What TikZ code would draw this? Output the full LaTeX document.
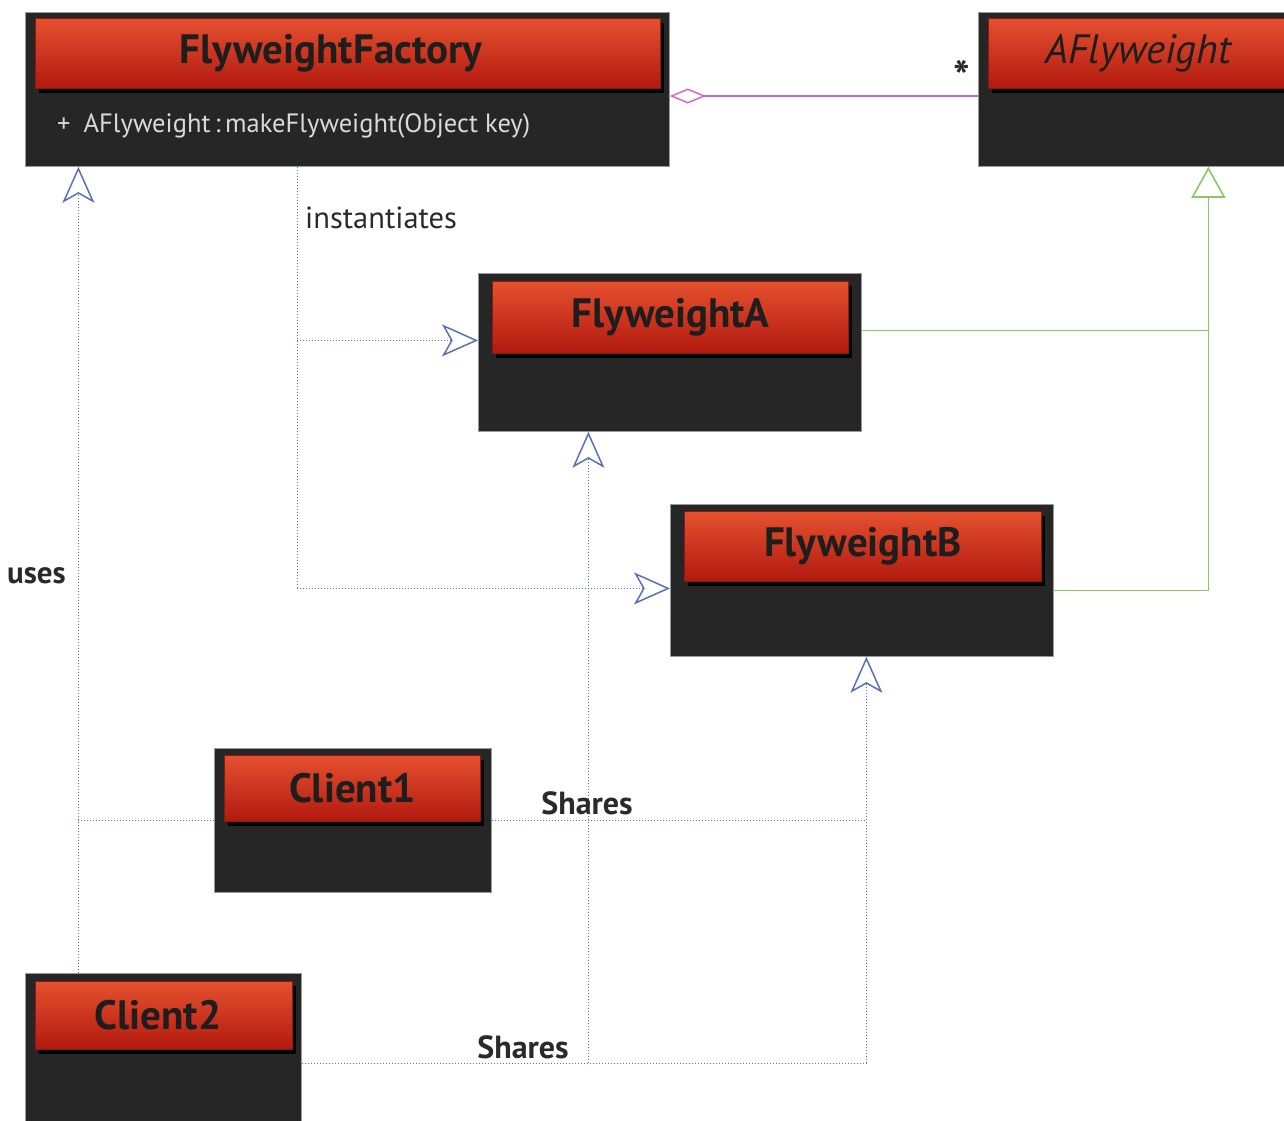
\documentclass[tikz,border=0pt]{standalone}
\usepackage{fontspec}
\setmainfont{PT Sans}
\usetikzlibrary{arrows.meta,shadows,calc}

\definecolor{boxbody}{HTML}{262626}
\definecolor{boxedge}{HTML}{9A9A9A}
\definecolor{headtop}{HTML}{E5512F}
\definecolor{headbot}{HTML}{B2190F}
\definecolor{headedge}{HTML}{8A1A10}
\definecolor{titleink}{HTML}{1E1E1E}
\definecolor{depblue}{HTML}{5870B8}
\definecolor{aggpink}{HTML}{D060D0}
\definecolor{gengreen}{HTML}{8CC860}
\definecolor{labelink}{HTML}{2A2A2A}

\tikzset{
  classbody/.style={draw=boxedge, line width=0.8pt, fill=boxbody,
    anchor=north west, inner sep=0pt},
  classhead/.style={draw=headedge, line width=0.8pt,
    top color=headtop, bottom color=headbot,
    general shadow={shadow xshift=4pt, shadow yshift=-5pt, fill=black},
    anchor=north west, inner sep=0pt, text=titleink,
    font=\fontsize{41}{46}\selectfont\bfseries},
  member/.style={anchor=west, text=white!85!black, inner sep=0pt,
    font=\fontsize{26.5}{30}\selectfont},
  dep/.style={depblue, line width=1pt, dotted},
  openhead/.style={-{Stealth[open, length=36pt, width=32pt, inset=9pt, line width=1.5pt]}},
  tag/.style={text=labelink, inner sep=0pt, font=\fontsize{30.5}{34}\selectfont},
  boldtag/.style={tag, font=\fontsize{32}{36}\selectfont\bfseries},
}

\begin{document}
\begin{tikzpicture}[x=1pt, y=-1pt]
\useasboundingbox (0,0) rectangle (1284,1120);
\clip (0,0) rectangle (1284,1120);

% class bodies
\node[classbody, minimum width=644pt, minimum height=154pt] (factory) at (25,12) {};
\node[classbody, minimum width=320pt, minimum height=154pt] (afly) at (978,12) {};
\node[classbody, minimum width=383pt, minimum height=158pt] (fa) at (478,273) {};
\node[classbody, minimum width=383pt, minimum height=152pt] (fb) at (670,504) {};
\node[classbody, minimum width=277pt, minimum height=144pt] (c1) at (214,748) {};
\node[classbody, minimum width=276pt, minimum height=157pt] (c2) at (25,973) {};

% class headers (a trailing kern nudges a title slightly left of centre)
\node[classhead, minimum width=625pt, minimum height=70pt] (factoryhead) at (35,18) {FlyweightFactory\kern34pt};
\node[classhead, minimum width=300pt, minimum height=70pt, font=\fontsize{41}{46}\selectfont\itshape] (aflyhead) at (988,18) {AFlyweight};
\node[classhead, minimum width=356pt, minimum height=72pt] (fahead) at (492,281) {FlyweightA};
\node[classhead, minimum width=357pt, minimum height=70pt] (fbhead) at (684,511) {FlyweightB};
\node[classhead, minimum width=256pt, minimum height=66pt] (c1head) at (224,755) {Client1};
\node[classhead, minimum width=257pt, minimum height=68pt] (c2head) at (35,981) {Client2\kern12pt};

% operation of the factory
\node[member] (factoryop) at (57,126) {+\hspace{13pt}AFlyweight\,:\,makeFlyweight(Object key)};

% aggregation factory <>-- * AFlyweight
\coordinate (aggY) at (0,96);
\draw[aggpink, line width=1.4pt, {Diamond[open, length=36pt, width=15pt, line width=1.4pt]}-]
  (factory.east |- aggY) -- (afly.west |- aggY);
\node[tag, font=\fontsize{44}{44}\selectfont\bfseries] (mult) at (962,76) {*};

% generalisation of the concrete flyweights
\coordinate (genTop) at ([xshift=70pt]afly.south);
\coordinate (faOut) at ([yshift=22pt]fa.east);
\coordinate (fbOut) at ([yshift=-10pt]fb.east);
\draw[gengreen, line width=1.4pt, -{Triangle[open, length=31pt, width=34pt, line width=1.6pt]}]
  (fbOut) -| (genTop);
\draw[gengreen, line width=1.4pt] (faOut) -- (faOut -| genTop);

% factory instantiates the concrete flyweights
\coordinate (instX) at ([xshift=-50pt]factory.south);
\coordinate (faIn) at ([yshift=12pt]fa.west);
\coordinate (fbIn) at ([yshift=-8pt]fb.west);
\draw[dep] (instX) -- (instX |- fbIn);
\draw[dep, openhead] (instX |- fbIn) -- (fbIn);
\draw[dep, openhead] (instX |- faIn) -- (faIn);
\node[tag, anchor=west] (insttag) at (305,218) {instantiates};

% clients use the factory
\coordinate (usesTop) at ([xshift=-269pt]factory.south);
\coordinate (c2Top) at ([xshift=-85pt]c2.north);
\draw[dep, openhead] (c2Top) -- (usesTop);
\draw[dep] (c1.west) -- (c1.west -| usesTop);
\node[boldtag, anchor=west, font=\fontsize{31}{34}\selectfont\bfseries] (usestag) at (7,576) {uses};

% clients share the flyweights
\coordinate (fbBot) at ([xshift=4.5pt]fb.south);
\coordinate (faBot) at ([xshift=-81.5pt]fa.south);
\coordinate (c2Out) at ([yshift=-11.5pt]c2.east);
\draw[dep] (c1.east) -- (c1.east -| fbBot);
\draw[dep] (c2Out) -- (c2Out -| fbBot);
\draw[dep, openhead] (c2Out -| fbBot) -- (fbBot);
\draw[dep, openhead] (c2Out -| faBot) -- (faBot);
\node[boldtag] (share1) at (587,803) {Shares};
\node[boldtag] (share2) at (523,1047) {Shares};
\end{tikzpicture}
\end{document}
